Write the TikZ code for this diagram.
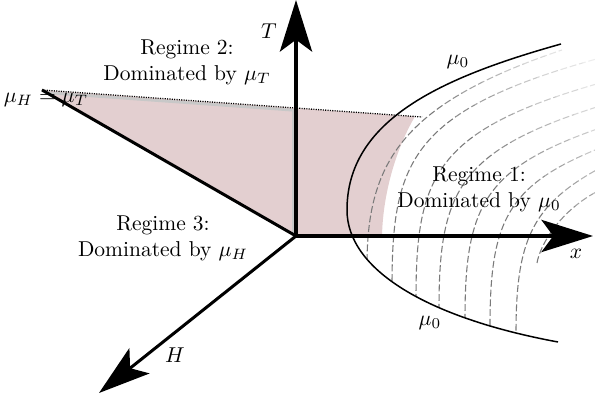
\documentclass[tikz,border=0pt]{standalone}
\usetikzlibrary{arrows.meta}
\definecolor{pinkfill}{RGB}{227,207,208}
\definecolor{stripgray}{RGB}{200,200,200}
\newcommand\mydashcurves[1]{%
  \draw[dcurve,#1] (367,290) -- (367,265) .. controls (367,160) and (405,103) .. (562,50);
  \draw[dcurve,#1] (392,310) -- (392,286) .. controls (392,160) and (412,110) .. (600,58);
  \draw[dcurve,#1] (416,320) -- (416,298) .. controls (416,175) and (436,130) .. (600,83);
  \draw[dcurve,#1] (439,330) -- (439,308) .. controls (439,190) and (460,150) .. (600,106);
  \draw[dcurve,#1] (465,340) -- (465,318) .. controls (465,205) and (485,168) .. (600,128);
  \draw[dcurve,#1] (490,345) -- (490,326) .. controls (490,220) and (508,185) .. (600,148);
  \draw[dcurve,#1] (516,350) -- (516,333) .. controls (516,240) and (532,205) .. (600,168);
  \draw[dcurve,#1] (537,263) .. controls (540,245) and (560,210) .. (600,190);
}
\begin{document}
\begin{tikzpicture}[x=0.465pt,y=-0.465pt,
  axis/.style={line width=1.4pt,-{Stealth[length=24pt,width=15pt,inset=5.5pt]}},
  thickline/.style={line width=1.4pt},
  dcurve/.style={line width=0.5pt,dash pattern=on 3.2pt off 1.3pt},
  solidcurve/.style={line width=0.7pt,black},
  dotline/.style={line width=0.6pt,dash pattern=on 0.5pt off 0.6pt},
  strip/.style={line width=1.3pt,stripgray},
  lbl/.style={inner sep=0pt,align=center,font=\normalsize}]
\useasboundingbox (0,0) rectangle (595,403);
% key points
\coordinate (O) at (296,236);
\coordinate (Ttip) at (296,0);
\coordinate (Xtip) at (593,236);
\coordinate (Htip) at (99,393);
\coordinate (L) at (42,90);
\coordinate (D) at (422,117);
\coordinate (Pc) at (415,116.5);
\coordinate (Px) at (382,236);
\coordinate (S0) at (561,44);
\coordinate (SV) at (347,210);
\coordinate (S1) at (558,342);
% pink region
\fill[pinkfill] (L) -- (Pc) .. controls (398,145) and (383,190) .. (Px) -- (O) -- cycle;
% gray strip along the upper edge and the T axis
\draw[strip] (48,92.8) -- (293.6,110.2) -- (293.6,233);
% dashed level curves, inside the mu_0 curve, fading to the upper right
\begin{scope}
  \clip (S0) .. controls (441,77.6) and (347,120) .. (SV)
        .. controls (347,270) and (428,318) .. (S1)
        -- (620,342) -- (620,0) -- (561,0) -- cycle;
  \foreach \a/\b/\c in {-600/340/52, 340/370/44, 370/400/36, 400/430/29, 430/460/22, 460/490/16, 490/520/11, 520/900/7}{
    \begin{scope}
      \clip (\a,0) -- (\b,0) -- (\b+403,403) -- (\a+403,403) -- cycle;
      \mydashcurves{black!\c}
    \end{scope}
  }
\end{scope}
% solid mu_0 curve
\draw[solidcurve] (S0) .. controls (441,77.6) and (347,120) .. (SV)
      .. controls (347,270) and (428,318) .. (S1);
% dotted line
\draw[dotline] (L) -- (D);
% mu_H = mu_T line
\draw[thickline] (L) -- (O);
% axes
\draw[axis] (O) -- (Ttip);
\draw[axis] (O) -- (Xtip);
\draw[axis] (O) -- (Htip);
% labels
\node[lbl] (tl) at (269,31) {$T$};
\node[lbl] (xl) at (576,254) {$x$};
\node[lbl] (hl) at (175,355) {$H$};
\node[lbl] (m0a) at (458,62) {$\mu_0$};
\node[lbl] (m0b) at (430,323) {$\mu_0$};
\node[lbl] (mht) at (46,100) {$\mu_H = \mu_T$};
\node[lbl] (r2) at (187,62) {Regime 2:\\Dominated by $\mu_T$};
\node[lbl] (r1) at (479,189) {Regime 1:\\Dominated by $\mu_0$};
\node[lbl] (r3) at (163,238) {Regime 3:\\Dominated by $\mu_H$};
\end{tikzpicture}
\end{document}
